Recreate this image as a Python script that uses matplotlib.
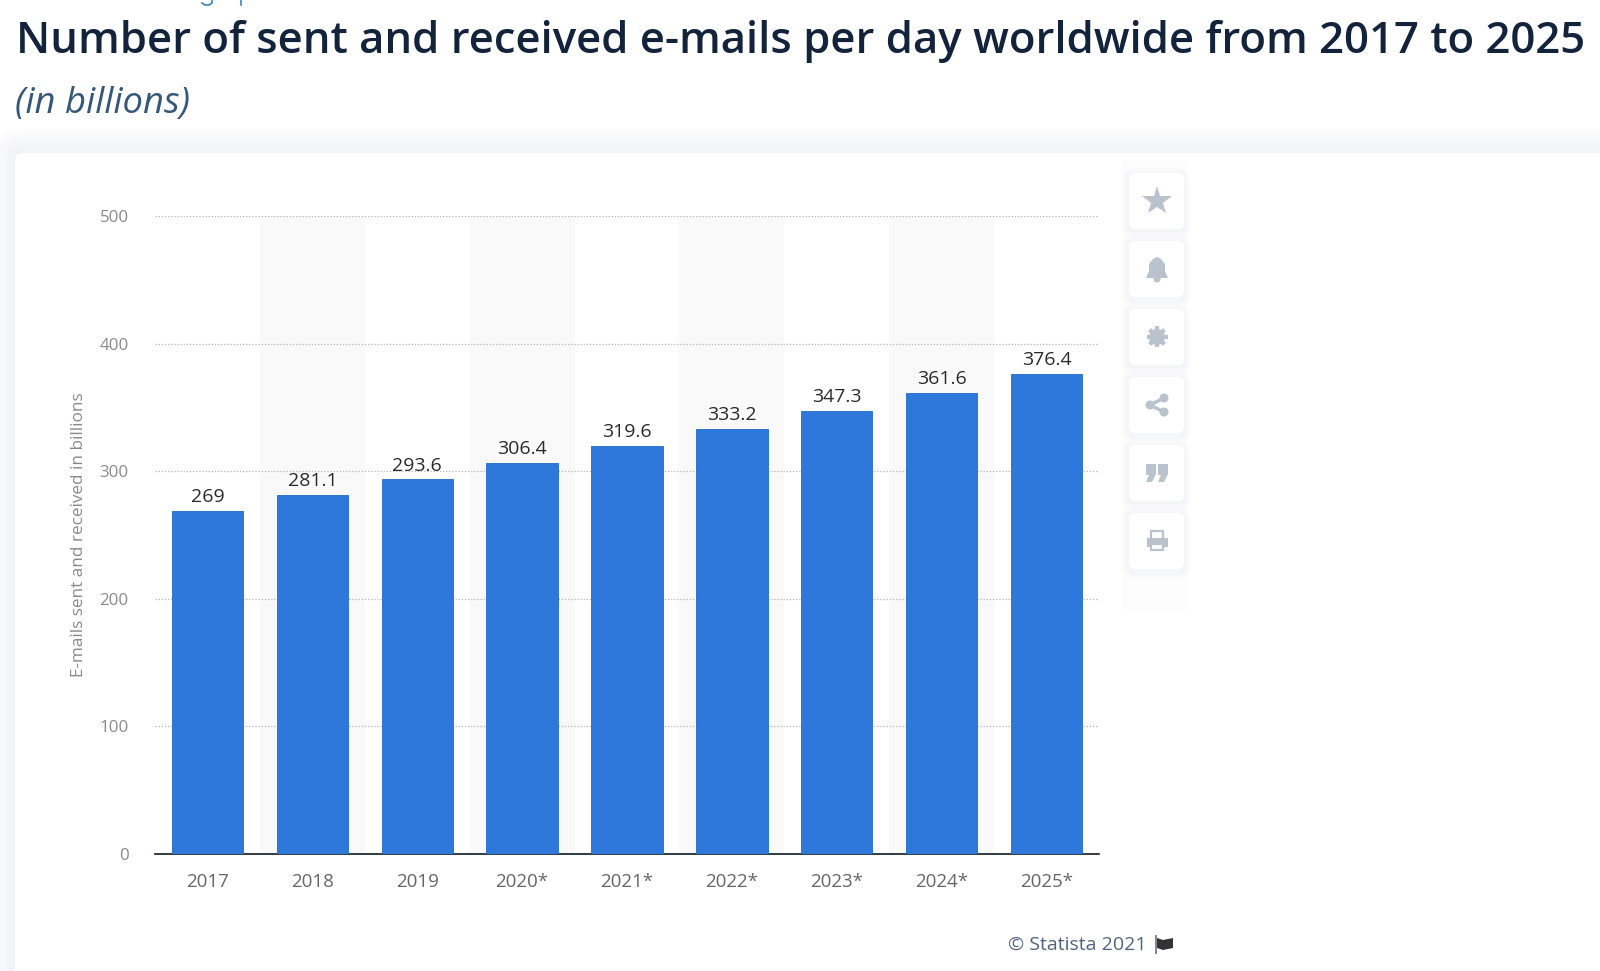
import matplotlib
matplotlib.use("Agg")
import matplotlib.pyplot as plt
from matplotlib.patches import FancyBboxPatch, Rectangle, Polygon, Circle

plt.rcParams["font.family"] = ["Open Sans", "DejaVu Sans"]

# data
years = ["2017", "2018", "2019", "2020*", "2021*", "2022*", "2023*", "2024*", "2025*"]
emails = [269, 281.1, 293.6, 306.4, 319.6, 333.2, 347.3, 361.6, 376.4]
value_labels = ["269", "281.1", "293.6", "306.4", "319.6", "333.2", "347.3", "361.6", "376.4"]
y_ticks = [0, 100, 200, 300, 400, 500]

W, H = 1600, 971
fig = plt.figure(figsize=(W / 100, H / 100), dpi=100, facecolor="white")

# page layer in pixel coords, y pointing down
bg = fig.add_axes([0, 0, 1, 1], zorder=0)
bg.set_xlim(0, W); bg.set_ylim(H, 0); bg.axis("off")


def rounded(x0, y0, x1, y1, r, **kw):
    p = FancyBboxPatch((x0 + r, y0 + r), x1 - x0 - 2 * r, y1 - y0 - 2 * r,
                       boxstyle=f"round,pad={r},rounding_size={r}", **kw)
    bg.add_patch(p)


# soft shadow round the big card
for grow in range(24, 0, -3):
    rounded(15 - grow, 153 - grow, W + 60, H + 60, 8 + grow, fc="#e6ebf2", ec="none", alpha=0.07)
rounded(15, 153, W + 60, H + 60, 8, fc="white", ec="none")

# toolbar on the right of the chart
bg.add_patch(Rectangle((1122, 160), 65, 450, fc="#fdfdfe", ec="none"))
icon_c = "#b9c2cd"
cx = 1157
centers = [201, 269, 337, 405, 473, 541]
for cy in centers:
    for grow in (7, 5, 3, 1):
        rounded(1129 - grow, cy - 28 - grow + 2, 1184 + grow, cy + 28 + grow + 2, 6 + grow,
                fc="#f0f2f6", ec="none", alpha=0.2)
    rounded(1129, cy - 28, 1184, cy + 28, 6, fc="white", ec="none")

# star
bg.plot([cx], [centers[0]], marker="*", ms=22, color=icon_c, mew=0)
# bell
cy = centers[1]
bg.add_patch(Polygon([(cx - 11, cy + 9), (cx - 8, cy + 2), (cx - 8, cy - 5), (cx - 4, cy - 10), (cx, cy - 12),
                      (cx + 4, cy - 10), (cx + 8, cy - 5), (cx + 8, cy + 2), (cx + 11, cy + 9)], fc=icon_c, ec="none"))
bg.add_patch(Circle((cx, cy + 10), 3.5, fc=icon_c, ec="none"))
# gear
cy = centers[2]
bg.plot([cx - 10.5, cx + 10.5], [cy, cy], color=icon_c, lw=3, solid_capstyle="butt")
bg.plot([cx, cx], [cy - 10.5, cy + 10.5], color=icon_c, lw=3, solid_capstyle="butt")
bg.plot([cx - 7.4, cx + 7.4], [cy - 7.4, cy + 7.4], color=icon_c, lw=3, solid_capstyle="butt")
bg.plot([cx - 7.4, cx + 7.4], [cy + 7.4, cy - 7.4], color=icon_c, lw=3, solid_capstyle="butt")
bg.add_patch(Circle((cx, cy), 8, fc=icon_c, ec="none"))
bg.add_patch(Circle((cx, cy), 3.8, fc="white", ec="none"))
# share
cy = centers[3]
bg.plot([cx + 7, cx - 7, cx + 7], [cy - 7, cy, cy + 7], color=icon_c, lw=2.5)
for dx, dy in [(7, -7), (-7, 0), (7, 7)]:
    bg.add_patch(Circle((cx + dx, cy + dy), 4.5, fc=icon_c, ec="none"))
# quote marks
cy = centers[4]
for dx in (-6, 6):
    bg.add_patch(Polygon([(cx + dx - 5, cy - 9), (cx + dx + 5, cy - 9), (cx + dx + 5, cy + 1), (cx + dx + 1, cy + 9),
                          (cx + dx - 5, cy + 9), (cx + dx - 2, cy + 2), (cx + dx - 5, cy + 2)], fc=icon_c, ec="none"))
# printer
cy = centers[5]
bg.add_patch(Rectangle((cx - 6, cy - 10), 12, 9, fc="white", ec=icon_c, lw=1.6))
bg.add_patch(Rectangle((cx - 10.5, cy - 3), 21, 9, fc=icon_c, ec="none"))
bg.add_patch(Rectangle((cx - 6, cy + 3), 12, 6, fc="white", ec=icon_c, lw=1.6))

# cut-off breadcrumb descenders at the very top
bg.plot([202, 205, 209, 212, 212], [3, 5, 5, 3, 0], color="#2a7ab8", lw=1.1)
bg.plot([241, 241], [0, 5], color="#2a7ab8", lw=1.1)

# headline
bg.text(16, 53, "Number of sent and received e-mails per day worldwide from 2017 to 2025",
        fontsize=31.5, fontweight="semibold", color="#14233c", ha="left", va="baseline")
bg.text(15, 113, "(in billions)", fontsize=26.2, fontstyle="italic", color="#36577a", ha="left", va="baseline")

# footer
bg.text(1008, 945, "© Statista 2021", fontsize=14, color="#4f6480", ha="left", va="center")
bg.plot([1156, 1156], [936, 953], color="#80868e", lw=1.4)
bg.add_patch(Polygon([(1157, 938), (1163, 940), (1173, 938), (1173, 948), (1163, 950), (1157, 948)], fc="#333333", ec="none"))

# the chart itself
left, right, top, base = 155, 1099, 216, 854
ax = fig.add_axes([left / W, 1 - base / H, (right - left) / W, (base - top) / H], zorder=1)
ax.patch.set_alpha(0)
xs = range(len(years))
for i in xs:
    if i % 2 == 1:
        ax.axvspan(i - 0.5, i + 0.5, color="#f9f9f9", lw=0, zorder=0)
ax.bar(xs, emails, width=0.68, color="#2f78db", edgecolor="#1f6cc8", linewidth=0.6, zorder=3)
for i, (v, lab) in enumerate(zip(emails, value_labels)):
    ax.annotate(lab, (i, v), xytext=(0, 3.5), textcoords="offset points", ha="center", va="bottom",
                fontsize=14, color="#2a2a2a")

ax.set_xlim(-0.5, len(years) - 0.5)
ax.set_ylim(0, 500)
ax.set_xticks(list(xs), years)
ax.set_yticks(y_ticks)
ax.grid(axis="y", linestyle=(0, (1, 1.5)), color="#b5b5b5", linewidth=0.9, zorder=1)
ax.set_axisbelow(True)
ax.tick_params(axis="x", length=0, pad=14, labelsize=13.5, labelcolor="#666666")
ax.tick_params(axis="y", length=0, pad=19, labelsize=12.2, labelcolor="#8a8a8a")
for s in ("top", "left", "right"):
    ax.spines[s].set_visible(False)
ax.spines["bottom"].set_color("#111a26")
ax.spines["bottom"].set_linewidth(1.2)
ax.set_ylabel("E-mails sent and received in billions", fontsize=12.3, color="#8a8a8a", labelpad=0)
ax.yaxis.set_label_coords((87 - left) / (right - left), (base - 535) / (base - top))

fig.savefig("out.png", dpi=100)
